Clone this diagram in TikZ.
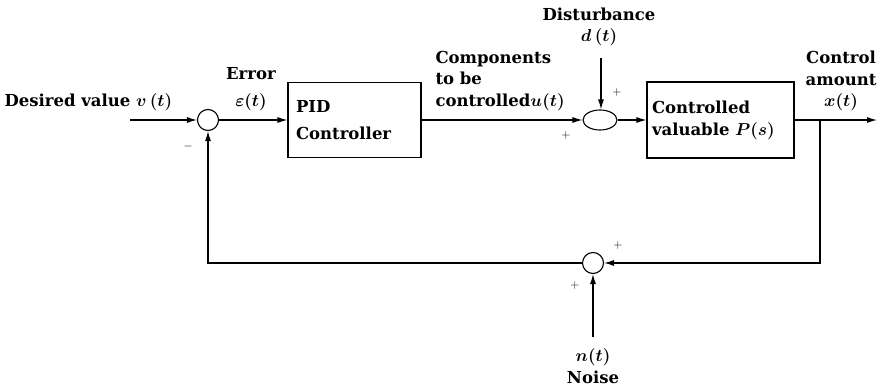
\documentclass[tikz,border=0pt]{standalone}
\usepackage{fontspec}
\setmainfont{DejaVu Serif}
\usetikzlibrary{arrows.meta,shapes.geometric}
\begin{document}
\begin{tikzpicture}[x=1pt,y=-1pt, line width=1.1pt,
  arr/.style={-{Latex[length=10pt,width=6pt]}},
  sumc/.style={draw,circle,minimum size=21pt,inner sep=0pt},
  sume/.style={draw,ellipse,minimum width=34pt,minimum height=20pt,inner sep=0pt},
  blk/.style={draw,inner ysep=0pt,align=left,font=\fontsize{16.5}{22}\selectfont\bfseries\boldmath},
  lbl/.style={font=\fontsize{16.5}{21.5}\selectfont\bfseries\boldmath,inner sep=0pt},
  sgn/.style={font=\fontsize{12}{12}\selectfont,inner sep=0pt}]
\useasboundingbox (0,0) rectangle (880,391);
% blocks
\node[sumc] (s1) at (208,120) {};
\node[blk,minimum width=133pt,minimum height=75pt,text width=117pt,inner xsep=8pt] (pid) at (354.5,120) {PID\\[5pt]Controller};
\node[sume] (s2) at (600,120) {};
\node[blk,minimum width=147pt,minimum height=76pt,text width=137pt,inner xsep=5pt] (plant) at (720.5,120) {Controlled\\valuable $P(s)$};
\node[sumc] (s3) at (593,263) {};
% free ends
\coordinate (in) at (130,120);
\coordinate (out) at (877,120);
\coordinate (br) at (820,120);
\coordinate (nz) at (593,337);
\coordinate (dist) at (601,58);
% connectors
\draw[arr] (in) -- (s1);
\draw[arr] (s1) -- (pid);
\draw[arr] (pid) -- (s2);
\draw[arr] (s2) -- (plant);
\draw[arr] (plant) -- (out);
\draw[arr] (br) |- (s3);
\draw[arr] (s3) -| (s1);
\draw[arr] (nz) -- (s3);
\draw[arr] (dist) -- (dist |- s2.north);
% labels
\node[lbl,anchor=west] (ldes) at (4,102) {Desired value $v\,(t)$};
\node[lbl,align=center] (lerr) at (251,89) {Error\\[6pt]$\varepsilon(t)$};
\node[lbl,align=left,anchor=west] (lcomp) at (435,81) {Components\\to be\\controlled$u(t)$};
\node[lbl,align=center] (ldist) at (599,27) {Disturbance\\$d\,(t)$};
\node[lbl,align=center] (lout) at (841,81) {Control\\amount\\$x(t)$};
\node[lbl,align=center] (lnz) at (593,366) {$n(t)$\\[1pt]Noise};
% signs
\node[sgn] (m1) at (188,146) {$-$};
\node[sgn] (p1) at (566,135) {$+$};
\node[sgn] (p2) at (617,92) {$+$};
\node[sgn] (p3) at (618,245) {$+$};
\node[sgn] (p4) at (575,285) {$+$};
\end{tikzpicture}
\end{document}
